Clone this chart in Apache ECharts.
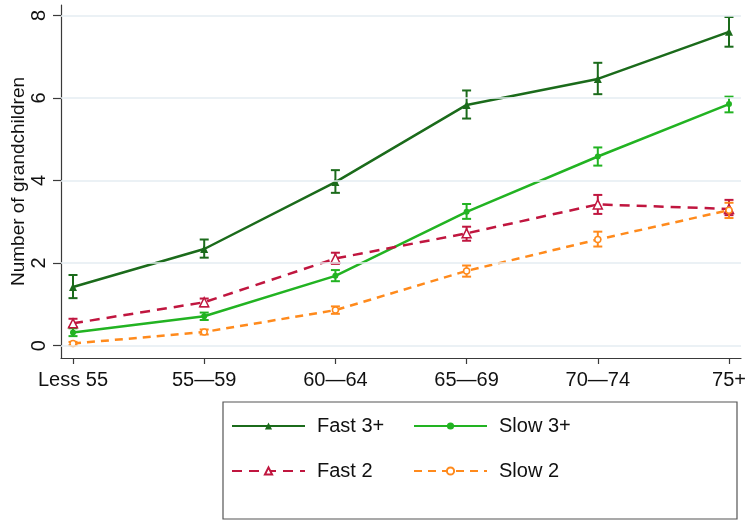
<!DOCTYPE html>
<html>
<head>
<meta charset="utf-8">
<script src="https://cdn.jsdelivr.net/npm/echarts@6/dist/echarts.min.js"></script>
<style>
  html, body { margin: 0; padding: 0; background: #fff; }
  #chart { width: 747px; height: 522px; }
</style>
</head>
<body>
<div id="chart"></div>
<script>
// Age groups on the horizontal axis
const categories = ['Less 55', '55\u201459', '60\u201464', '65\u201469', '70\u201474', '75+'];
const yTicks = [0, 2, 4, 6, 8];

// Mean number of grandchildren, with lower / upper confidence limits
const fast3Mean = [1.42, 2.34, 3.96, 5.83, 6.46, 7.60];
const fast3Low  = [1.15, 2.13, 3.70, 5.50, 6.09, 7.24];
const fast3High = [1.71, 2.57, 4.25, 6.18, 6.85, 7.96];

const slow3Mean = [0.32, 0.71, 1.69, 3.24, 4.58, 5.85];
const slow3Low  = [0.23, 0.62, 1.56, 3.07, 4.36, 5.65];
const slow3High = [0.42, 0.80, 1.83, 3.43, 4.80, 6.03];

const fast2Mean = [0.54, 1.05, 2.11, 2.72, 3.42, 3.31];
const fast2Low  = [0.45, 0.95, 1.98, 2.54, 3.19, 3.16];
const fast2High = [0.65, 1.14, 2.25, 2.88, 3.65, 3.53];

const slow2Mean = [0.05, 0.33, 0.86, 1.81, 2.57, 3.28];
const slow2Low  = [0.01, 0.27, 0.77, 1.67, 2.40, 3.09];
const slow2High = [0.09, 0.39, 0.95, 1.94, 2.76, 3.46];

const FONT = '"Liberation Sans", Arial, sans-serif';
const FS = 20;

function points(vals) { return vals.map((v, i) => [i, v]); }
function bars(lo, hi) { return lo.map((v, i) => [i, v, hi[i]]); }

function errorSeries(name, lo, hi, color) {
  return {
    type: 'custom',
    name: name + ' CI',
    data: bars(lo, hi),
    encode: { x: 0, y: [1, 2] },
    z: 3,
    silent: true,
    renderItem: function (params, api) {
      const x = api.value(0);
      const p1 = api.coord([x, api.value(1)]);
      const p2 = api.coord([x, api.value(2)]);
      const cap = 4.5;
      const style = { stroke: color, lineWidth: 2, fill: null };
      return {
        type: 'group',
        children: [
          { type: 'line', shape: { x1: p1[0], y1: p1[1], x2: p2[0], y2: p2[1] }, style: style },
          { type: 'line', shape: { x1: p1[0] - cap, y1: p1[1], x2: p1[0] + cap, y2: p1[1] }, style: style },
          { type: 'line', shape: { x1: p2[0] - cap, y1: p2[1], x2: p2[0] + cap, y2: p2[1] }, style: style }
        ]
      };
    }
  };
}

const C_FAST3 = '#1b6b1b';
const C_SLOW3 = '#22b322';
const C_FAST2 = '#c0163f';
const C_SLOW2 = '#ff8a1c';

const legendCommon = {
  top: 415, orient: 'vertical', padding: 0,
  itemWidth: 73, itemHeight: 9, itemGap: 23,
  textStyle: { fontSize: FS, color: '#111', fontFamily: FONT, padding: [0, 0, 0, 7], lineHeight: 22 }
};

const chart = echarts.init(document.getElementById('chart'), null, { renderer: 'canvas' });

chart.setOption({
  animation: false,
  backgroundColor: '#ffffff',
  textStyle: { fontFamily: FONT },
  grid: { left: 61, right: 6, top: 5, bottom: 164, outerBoundsMode: 'none', containLabel: false },
  xAxis: {
    type: 'value',
    min: -0.0915,
    max: 5.0915,
    axisLine: { show: true, onZero: false, lineStyle: { color: '#3a3a3a', width: 1.2 } },
    axisTick: { show: true, length: 6, customValues: [0, 1, 2, 3, 4, 5], lineStyle: { color: '#3a3a3a', width: 1.2 } },
    axisLabel: {
      customValues: [0, 1, 2, 3, 4, 5],
      formatter: v => categories[Math.round(v)],
      color: '#111', fontSize: FS, fontFamily: FONT, margin: 12
    },
    splitLine: { show: false }
  },
  yAxis: {
    type: 'value',
    min: -0.3,
    max: 8.25,
    name: 'Number of grandchildren',
    nameLocation: 'middle',
    nameGap: 33,
    nameMoveOverlap: false,
    nameRotate: 90,
    nameTextStyle: { color: '#111', fontSize: 19, fontFamily: FONT },
    axisLine: { show: true, onZero: false, lineStyle: { color: '#3a3a3a', width: 1.2 } },
    axisTick: { show: true, length: 8, customValues: yTicks, lineStyle: { color: '#3a3a3a', width: 1.2 } },
    axisLabel: {
      customValues: yTicks,
      rotate: 90,
      color: '#111', fontSize: FS, fontFamily: FONT, margin: 12
    },
    splitLine: { show: false }
  },
  legend: [
    Object.assign({ left: 231, data: ['Fast 3+', 'Fast 2'] }, legendCommon),
    Object.assign({ left: 413, data: ['Slow 3+', 'Slow 2'] }, legendCommon)
  ],
  graphic: [
    {
      type: 'rect',
      shape: { x: 223, y: 402, width: 514, height: 117 },
      style: { fill: null, stroke: '#555', lineWidth: 1.2 }
    }
  ],
  series: [
    {
      type: 'line', name: 'grid', data: [], silent: true, z: 0,
      markLine: {
        silent: true, symbol: 'none', label: { show: false },
        lineStyle: { color: '#e4edf2', width: 1.5, type: 'solid' },
        data: yTicks.map(v => ({ yAxis: v }))
      }
    },
    {
      type: 'line', name: 'Fast 3+', data: points(fast3Mean), z: 4,
      color: C_FAST3,
      lineStyle: { color: C_FAST3, width: 2.5 },
      symbol: 'triangle', symbolSize: 8,
      itemStyle: { color: C_FAST3 }
    },
    {
      type: 'line', name: 'Slow 3+', data: points(slow3Mean), z: 4,
      color: C_SLOW3,
      lineStyle: { color: C_SLOW3, width: 2.5 },
      symbol: 'circle', symbolSize: 6,
      itemStyle: { color: C_SLOW3 }
    },
    {
      type: 'line', name: 'Fast 2', data: points(fast2Mean), z: 4,
      color: C_FAST2,
      lineStyle: { color: C_FAST2, width: 2.5, type: [10, 7] },
      symbol: 'triangle', symbolSize: 9,
      itemStyle: { color: '#ffffff', borderColor: C_FAST2, borderWidth: 1.5 }
    },
    {
      type: 'line', name: 'Slow 2', data: points(slow2Mean), z: 4,
      color: C_SLOW2,
      lineStyle: { color: C_SLOW2, width: 2.5, type: [8, 6] },
      symbol: 'circle', symbolSize: 6,
      itemStyle: { color: '#ffffff', borderColor: C_SLOW2, borderWidth: 1.5 }
    },
    errorSeries('Fast 3+', fast3Low, fast3High, C_FAST3),
    errorSeries('Slow 3+', slow3Low, slow3High, C_SLOW3),
    errorSeries('Fast 2', fast2Low, fast2High, C_FAST2),
    errorSeries('Slow 2', slow2Low, slow2High, C_SLOW2)
  ]
});
</script>
</body>
</html>
